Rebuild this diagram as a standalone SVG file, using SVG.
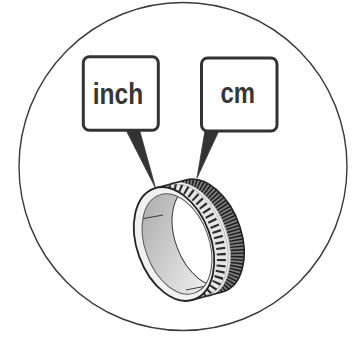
<svg xmlns="http://www.w3.org/2000/svg" width="355" height="337" viewBox="0 0 355 337">
  <style>
    .frame { fill: none; stroke: #3a3a3a; stroke-width: 1.4; }
    .box { fill: #ffffff; stroke: #333333; stroke-width: 3; }
    .label { font-family: "Liberation Sans Narrow", "Liberation Sans", Arial, sans-serif; font-weight: bold; font-size: 29px; fill: #363636; }
    .tail { fill: #333333; stroke: #333333; stroke-width: 0.8; stroke-linejoin: round; }
    .edge { fill: none; stroke: #222222; stroke-width: 1.6; stroke-linejoin: round; }
  </style>
  <defs>
    <linearGradient id="wall" x1="0" y1="0" x2="0.6" y2="1">
      <stop offset="0" stop-color="#a8a8a8"/>
      <stop offset="0.55" stop-color="#cdcdcd"/>
      <stop offset="1" stop-color="#ececec"/>
    </linearGradient>
    <!-- outer surface of the band -->
    <clipPath id="bandClip">
      <path d="M155.78,187.94 L185.78,179.94 A37,59,-20,0,1,222.22,292.06 L192.22,300.06 A37,59,-20,0,0,155.78,187.94 Z"/>
    </clipPath>
    <!-- rear knurled strip -->
    <clipPath id="rearClip">
      <path d="M172.28,183.54 L185.78,179.94 A37,59,-20,0,1,222.22,292.06 L208.72,295.66 A37,59,-20,0,0,172.28,183.54 Z"/>
    </clipPath>
    <!-- opening of the ring -->
    <clipPath id="holeClip">
      <ellipse cx="177" cy="244" rx="32" ry="52" transform="rotate(-20 177 244)"/>
    </clipPath>
  </defs>

  <rect width="355" height="337" fill="#ffffff"/>

  <g id="frame">
    <circle class="frame" cx="183" cy="166.5" r="164"/>
  </g>

  <g id="box-inch">
    <rect class="box" x="83.3" y="56.7" width="75" height="73.5" rx="6"/>
    <text class="label" x="92.8" y="104.3" textLength="50.5" lengthAdjust="spacingAndGlyphs">inch</text>
  </g>

  <g id="box-cm">
    <rect class="box" x="201.5" y="58" width="75.5" height="73" rx="6"/>
    <text class="label" x="220.5" y="102.7" textLength="34.5" lengthAdjust="spacingAndGlyphs">cm</text>
  </g>

  <g id="connectors">
    <polygon class="tail" points="126,130 139.5,130 155.5,188"/>
    <polygon class="tail" points="205,130.5 219,130.5 197,178"/>
  </g>

  <g id="ring">
    <!-- outer band -->
    <path d="M155.78,187.94 L185.78,179.94 A37,59,-20,0,1,222.22,292.06 L192.22,300.06 A37,59,-20,0,0,155.78,187.94 Z" fill="#e6e6e6"/>
    <path d="M172.28,183.54 L185.78,179.94 A37,59,-20,0,1,222.22,292.06 L208.72,295.66 A37,59,-20,0,0,172.28,183.54 Z" fill="#7c7c7c"/>
    <!-- knurl on the rear strip -->
    <g clip-path="url(#rearClip)">
      <path d="M179.18,181.7 A37,59,-20,0,1,215.62,293.82" fill="none" stroke="#1e1e1e" stroke-width="14" stroke-dasharray="1.5 1.8"/>
    </g>
    <!-- scale ticks on the front strip -->
    <g clip-path="url(#bandClip)">
      <path d="M162.98,186.02 A37,59,-20,0,1,199.42,298.14" fill="none" stroke="#2e2e2e" stroke-width="9" stroke-dasharray="2.2 3.6"/>
    </g>
    <!-- light groove between the strips -->
    <path d="M170.78,183.94 A37,59,-20,0,1,207.22,296.06" fill="none" stroke="#9a9a9a" stroke-width="2.6"/>
    <path d="M170.78,183.94 A37,59,-20,0,1,207.22,296.06" fill="none" stroke="#f6f6f6" stroke-width="1.4"/>
    <!-- silhouette -->
    <path class="edge" d="M155.78,187.94 L185.78,179.94 A37,59,-20,0,1,222.22,292.06 L192.22,300.06"/>
    <!-- front face -->
    <ellipse cx="174" cy="244" rx="37" ry="59" transform="rotate(-20 174 244)" fill="#f1f1f1" stroke="#222222" stroke-width="1.8"/>
    <!-- inner wall and the view through the ring -->
    <ellipse cx="177" cy="244" rx="32" ry="52" transform="rotate(-20 177 244)" fill="url(#wall)"/>
    <g clip-path="url(#holeClip)">
      <ellipse cx="207" cy="236" rx="32" ry="52" transform="rotate(-20 207 236)" fill="#ffffff" stroke="#3a3a3a" stroke-width="1"/>
      <line x1="141" y1="219" x2="163" y2="215" stroke="#3a3a3a" stroke-width="1"/>
      <line x1="186" y1="290" x2="206" y2="286" stroke="#3a3a3a" stroke-width="1"/>
    </g>
    <ellipse cx="177" cy="244" rx="32" ry="52" transform="rotate(-20 177 244)" fill="none" stroke="#555555" stroke-width="1"/>
  </g>
</svg>
